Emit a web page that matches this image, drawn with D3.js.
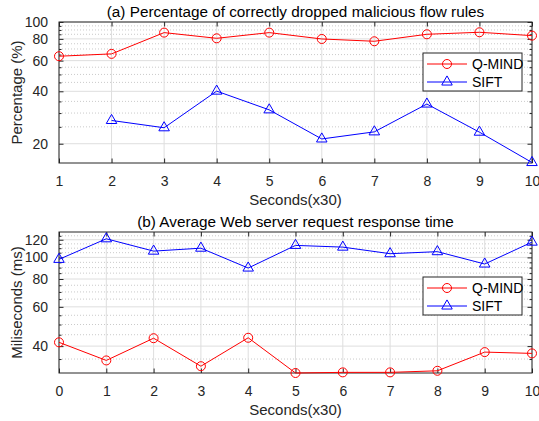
<!DOCTYPE html>
<html>
<head>
<meta charset="utf-8">
<script src="https://cdn.jsdelivr.net/npm/d3@7"></script>
<style>
  body { margin: 0; background: #fff; }
  svg { font-family: "Liberation Sans", Arial, sans-serif; }
</style>
</head>
<body>
<script>
// (a) dropped malicious flow rules, %
const secondsA = [1, 2, 3, 4, 5, 6, 7, 8, 9, 10];
const qmindDrop = [63.6, 65.6, 86.9, 80.6, 86.9, 79.9, 77.5, 85.0, 87.3, 83.5];
const siftDrop = [null, 27.2, 24.7, 40.1, 31.3, 21.3, 23.4, 33.8, 23.3, 15.6];
const dropTicks = [20, 40, 60, 80, 100];

// (b) web server response time, ms
const secondsB = [0, 1, 2, 3, 4, 5, 6, 7, 8, 9, 10];
const qmindResp = [41.6, 34.5, 43.4, 32.5, 43.6, 30.3, 30.5, 30.5, 31.0, 37.6, 37.1];
const siftResp = [98.0, 121.2, 106.7, 110.0, 89.6, 113.2, 111.2, 103.9, 106.1, 93.4, 117.1];
const respTicks = [40, 60, 80, 100, 120];

const seriesNames = ['Q-MIND', 'SIFT'];

const svg = d3.select(document.body).append('svg')
  .attr('width', 539).attr('height', 421);

drawPanel({
  top: 22, height: 141,
  xDomain: [1, 10], xTicks: secondsA,
  yDomain: [15.5, 100], yTicks: dropTicks, minorFrom: 20,
  x: secondsA, q: qmindDrop, s: siftDrop,
  title: '(a) Percentage of correctly dropped malicious flow rules',
  ylabel: 'Percentage (%)',
  legendY: 53
});

drawPanel({
  top: 232, height: 141,
  xDomain: [0, 10], xTicks: secondsB,
  yDomain: [30.3, 130], yTicks: respTicks, minorFrom: 35,
  x: secondsB, q: qmindResp, s: siftResp,
  title: '(b) Average Web server request response time',
  ylabel: 'Miliseconds (ms)',
  legendY: 277
});

function drawPanel(p) {
  const left = 59, width = 473;
  const g = svg.append('g').attr('transform', `translate(${left}, ${p.top})`);
  const x = d3.scaleLinear().domain(p.xDomain).range([0, width]);
  const y = d3.scaleLog().domain(p.yDomain).range([p.height, 0]);

  // minor values every 5 (MATLAB style), skipping the labelled ones
  const minor = d3.range(p.minorFrom, p.yDomain[1], 5)
    .filter(v => !p.yTicks.includes(v) && v > p.yDomain[0]);

  // grid
  g.append('g').selectAll('line').data(minor).join('line')
    .attr('x1', 0).attr('x2', width)
    .attr('y1', d => y(d)).attr('y2', d => y(d))
    .attr('stroke', '#bdbdbd').attr('stroke-width', 0.8)
    .attr('stroke-dasharray', '1,2');
  g.append('g').selectAll('line').data(p.yTicks).join('line')
    .attr('x1', 0).attr('x2', width)
    .attr('y1', d => y(d)).attr('y2', d => y(d))
    .attr('stroke', '#dedede').attr('stroke-width', 1);
  g.append('g').selectAll('line').data(p.xTicks).join('line')
    .attr('x1', d => x(d)).attr('x2', d => x(d))
    .attr('y1', 0).attr('y2', p.height)
    .attr('stroke', '#dedede').attr('stroke-width', 1);

  // axes with inward ticks
  const axisStyle = sel => {
    sel.select('.domain').remove();
    sel.selectAll('line').attr('stroke', '#262626');
    sel.selectAll('text').attr('fill', '#262626').style('font-size', '14px');
  };
  g.append('g').attr('transform', `translate(0, ${p.height})`)
    .call(d3.axisBottom(x).tickValues(p.xTicks).tickFormat(d3.format('d'))
      .tickSizeInner(-4.5).tickPadding(13))
    .call(axisStyle);
  g.append('g')
    .call(d3.axisTop(x).tickValues(p.xTicks).tickFormat('').tickSizeInner(-4.5))
    .call(axisStyle);
  g.append('g')
    .call(d3.axisLeft(y).tickValues(p.yTicks).tickFormat(d3.format('d'))
      .tickSizeInner(-4.5).tickPadding(11))
    .call(axisStyle);
  g.append('g').attr('transform', `translate(${width}, 0)`)
    .call(d3.axisRight(y).tickValues(p.yTicks).tickFormat('').tickSizeInner(-4.5))
    .call(axisStyle);
  g.append('g')
    .call(d3.axisLeft(y).tickValues(minor).tickFormat('').tickSizeInner(-2.5))
    .call(axisStyle);
  g.append('g').attr('transform', `translate(${width}, 0)`)
    .call(d3.axisRight(y).tickValues(minor).tickFormat('').tickSizeInner(-2.5))
    .call(axisStyle);

  g.append('rect').attr('width', width).attr('height', p.height)
    .attr('fill', 'none').attr('stroke', '#262626').attr('stroke-width', 1);

  // series
  const qData = p.x.map((d, i) => ({ x: d, v: p.q[i] }));
  const sData = p.x.map((d, i) => ({ x: d, v: p.s[i] })).filter(d => d.v != null);
  const line = d3.line().x(d => x(d.x)).y(d => y(d.v));

  g.append('path').datum(qData).attr('d', line)
    .attr('fill', 'none').attr('stroke', '#ff0000').attr('stroke-width', 1);
  g.append('path').datum(sData).attr('d', line)
    .attr('fill', 'none').attr('stroke', '#0000ff').attr('stroke-width', 1);

  g.append('g').selectAll('circle').data(qData).join('circle')
    .attr('cx', d => x(d.x)).attr('cy', d => y(d.v)).attr('r', 4.5)
    .attr('fill', 'none').attr('stroke', '#ff0000').attr('stroke-width', 1);
  const tri = d3.symbol().type(d3.symbolTriangle).size(48);
  g.append('g').selectAll('path').data(sData).join('path')
    .attr('d', tri)
    .attr('transform', d => `translate(${x(d.x)}, ${y(d.v)})`)
    .attr('fill', 'none').attr('stroke', '#0000ff').attr('stroke-width', 1);

  // title and labels
  svg.append('text').attr('x', left + width / 2).attr('y', p.top - 5)
    .attr('text-anchor', 'middle').attr('fill', '#000')
    .style('font-size', '15.3px').text(p.title);
  svg.append('text').attr('x', left + width / 2).attr('y', p.top + p.height + 42)
    .attr('text-anchor', 'middle').attr('fill', '#262626')
    .style('font-size', '15px').text('Seconds(x30)');
  svg.append('text')
    .attr('transform', `translate(22, ${p.top + p.height / 2}) rotate(-90)`)
    .attr('text-anchor', 'middle').attr('fill', '#262626')
    .style('font-size', '15px').text(p.ylabel);

  // legend
  const lg = svg.append('g').attr('transform', `translate(423, ${p.legendY})`);
  lg.append('rect').attr('width', 99).attr('height', 38)
    .attr('fill', '#fff').attr('stroke', '#262626').attr('stroke-width', 1);
  const colors = ['#ff0000', '#0000ff'];
  seriesNames.forEach((name, i) => {
    const cy = 11 + i * 18;
    lg.append('line').attr('x1', 4).attr('x2', 44).attr('y1', cy).attr('y2', cy)
      .attr('stroke', colors[i]).attr('stroke-width', 1);
    if (i === 0) {
      lg.append('circle').attr('cx', 24).attr('cy', cy).attr('r', 4.5)
        .attr('fill', 'none').attr('stroke', colors[i]);
    } else {
      lg.append('path').attr('d', tri).attr('transform', `translate(24, ${cy})`)
        .attr('fill', 'none').attr('stroke', colors[i]);
    }
    lg.append('text').attr('x', 49).attr('y', cy + 5).attr('fill', '#000')
      .style('font-size', '14px').text(name);
  });
}
</script>
</body>
</html>
